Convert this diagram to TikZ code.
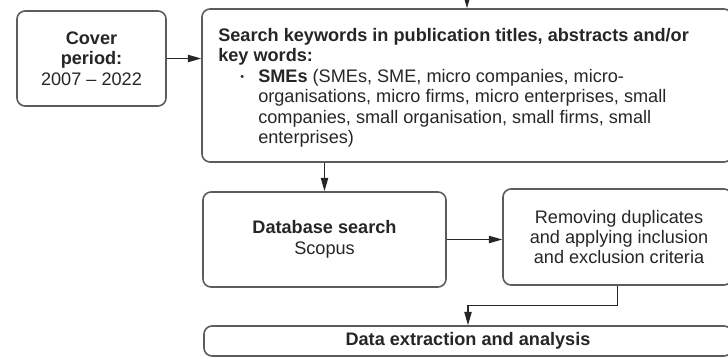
\documentclass[tikz,border=0pt]{standalone}
\usepackage{fontspec}
\setmainfont{Liberation Sans}
\usetikzlibrary{arrows.meta}
\definecolor{edge}{HTML}{5C5C5C}
\definecolor{ink}{HTML}{262626}
\begin{document}
\begin{tikzpicture}[x=0.75pt,y=-0.75pt,
  box/.style={draw=edge, line width=1.2pt, rounded corners=6pt, fill=white, inner sep=0pt},
  arr/.style={draw=ink, line width=0.9pt, -{Triangle[length=10pt,width=5.5pt]}},
  lbl/.style={inner sep=0pt, text=ink, font=\fontsize{13.6pt}{15.3pt}\selectfont}]
\path[use as bounding box] (0,0) rectangle (728,358);
\clip (0,0) rectangle (728,358);

% boxes
\node[box, minimum width=149*0.75pt, minimum height=95*0.75pt] (cover) at (91.5,58.5) {};
\node[lbl, align=center] (covertext) at (cover.center)
  {\textbf{Cover}\\\textbf{period:}\\2007 – 2022};

\node[box, minimum width=530*0.75pt, minimum height=153*0.75pt] (search) at (467,85.5) {};
\node[lbl, anchor=north west, align=left] (searchtext) at (218,28)
  {\textbf{Search keywords in publication titles, abstracts and/or}\\
   \textbf{key words:}\\
   \hspace*{16.5pt}\makebox[13.5pt][l]{\fontsize{8pt}{8pt}\selectfont\raisebox{1.5pt}{\textbullet}}\textbf{SMEs} (SMEs, SME, micro companies, micro-\\
   \hspace*{30pt}organisations, micro firms, micro enterprises, small\\
   \hspace*{30pt}companies, small organisation, small firms, small\\
   \hspace*{30pt}enterprises)};

\node[box, minimum width=243*0.75pt, minimum height=95*0.75pt] (db) at (324.5,239.5) {};
\node[lbl, align=center] (dbtext) at (db.center) {\textbf{Database search}\\Scopus};

\node[box, minimum width=229*0.75pt, minimum height=96*0.75pt] (rem) at (617.5,237) {};
\node[lbl, align=center] (remtext) at (619,237)
  {Removing duplicates\\and applying inclusion\\and exclusion criteria};

\node[box, minimum width=528*0.75pt, minimum height=30*0.75pt] (data) at (468,341) {};
\node[lbl] (datatext) at (data.center) {\textbf{Data extraction and analysis}};

% connectors
\coordinate (in) at (467,-4);
\draw[arr] (in) -- (search.north);
\draw[arr] (cover.east) -- (cover.east -| search.west);
\draw[arr] (search.south -| db.north) -- (db.north);
\draw[arr] (db.east) -- (db.east -| rem.west);
\draw[arr] (rem.south) -- ++(0,20) -| (data.north);
\end{tikzpicture}
\end{document}
